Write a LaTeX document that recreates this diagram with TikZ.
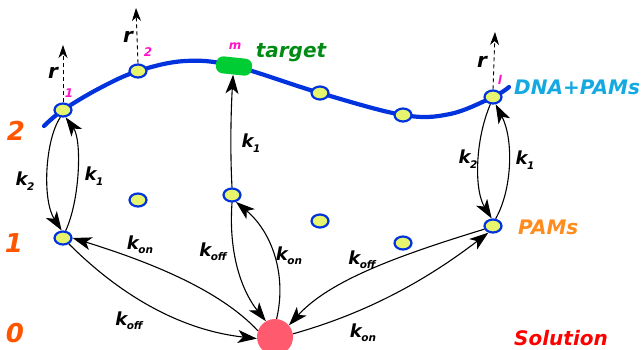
\documentclass[tikz,border=0pt]{standalone}
\usepackage{fontspec}
\setmainfont{DejaVu Sans}
\usetikzlibrary{arrows.meta,shapes.geometric}
\definecolor{dnablue}{RGB}{0,51,221}
\definecolor{pamfill}{RGB}{230,244,110}
\definecolor{tgreen}{RGB}{0,204,51}
\definecolor{ttext}{RGB}{0,140,20}
\definecolor{cyanlab}{RGB}{20,170,225}
\definecolor{levorange}{RGB}{255,85,0}
\definecolor{pamorange}{RGB}{255,140,30}
\definecolor{solred}{RGB}{255,0,0}
\definecolor{solfill}{RGB}{255,90,110}
\definecolor{magent}{RGB}{255,20,200}
\newcommand{\klab}[1]{k\kern-0.5pt\raisebox{-0.45ex}{\fontsize{10.5}{10.5}\selectfont #1}}
\begin{document}
\begin{tikzpicture}[x=1pt,y=-1pt,
  pam/.style={ellipse, draw=dnablue, line width=2.2pt, fill=pamfill, minimum width=17pt, minimum height=13pt, inner sep=0pt},
  arr/.style={-{Stealth[length=19pt,width=13pt,inset=5pt]}, line width=1.1pt},
  rarr/.style={-{Stealth[length=13pt,width=9pt,inset=4pt]}, line width=0.9pt, dash pattern=on 4pt off 3pt},
  klabel/.style={font=\fontsize{18}{18}\selectfont\bfseries\itshape, inner sep=0pt},
  lab/.style={font=\fontsize{20}{20}\selectfont\bfseries\itshape, inner sep=0pt},
  lev/.style={font=\fontsize{26}{26}\selectfont\bfseries\itshape, text=levorange, inner sep=0pt},
  sub/.style={font=\fontsize{12}{12}\selectfont\bfseries\itshape, text=magent, inner sep=0pt}]
\useasboundingbox (0,0) rectangle (642,349);
% DNA strand
\draw[dnablue, line width=4.2pt, line cap=round] plot[smooth,tension=0.6] coordinates
  {(44,126) (63,110) (100,88) (138,71) (185,61) (234,66) (320,93) (403,115) (450,114) (493,97) (509,87)};
\node[rounded corners=7pt, fill=tgreen, minimum width=36pt, minimum height=17pt, inner sep=0pt, rotate=-6] (tg) at (234,66) {};
% PAM nodes on DNA
\node[pam] (n1) at (63,110) {};
\node[pam] (n2) at (138,71) {};
\node[pam] (n3) at (320,93) {};
\node[pam] (n4) at (403,115) {};
\node[pam] (nl) at (493,97) {};
% PAM nodes level 1
\node[pam] (a1) at (63,238) {};
\node[pam] (b1) at (138,200) {};
\node[pam] (m1) at (232,195) {};
\node[pam] (c1) at (320,221) {};
\node[pam] (d1) at (403,243) {};
\node[pam] (r1) at (493,226) {};
% solution
\node[circle, fill=solfill, minimum size=36pt, inner sep=0pt] (sol) at (275,337) {};
% r arrows
\coordinate (t1) at (63,45);
\coordinate (t2) at (136,8);
\coordinate (tl) at (495,32);
\draw[rarr] (n1.north) -- (t1);
\draw[rarr] (n2.north) -- (t2);
\draw[rarr] (nl.north) -- (tl);
\node[lab] (rr1) at (53,73) {r};
\node[sub] (s1) at (69,93) {1};
\node[lab] (rr2) at (128,37) {r};
\node[sub] (s2) at (148,52) {2};
\node[lab] (rrl) at (482,62) {r};
\node[sub] (sl) at (500,80) {l};
% labels
\node[sub] (mm) at (235,46) {m};
\node[lab, text=ttext] (tgt) at (291,53) {target};
\node[lab, text=cyanlab, anchor=west] (dnal) at (514,87) {DNA+PAMs};
\node[lab, text=pamorange, anchor=west] (paml) at (518,227) {PAMs};
\node[lab, text=solred, anchor=west] (soll) at (514,338) {Solution};
\node[lev] (l2) at (16,131) {2};
\node[lev] (l1) at (14,243) {1};
\node[lev] (l0) at (15,333) {0};
% left pair
\draw[arr] (n1.250) .. controls (45,140) and (42,200) .. (a1.100);
\draw[arr] (a1.70) .. controls (80,200) and (82,140) .. (n1.290);
% right pair
\draw[arr] (nl.250) .. controls (475,140) and (474,190) .. (r1.100);
\draw[arr] (r1.70) .. controls (512,190) and (514,140) .. (nl.290);
% middle to target
\draw[arr] (m1.north) .. controls (230,150) and (231,110) .. (tg.south);
% solution exchanges
\draw[arr] (sol.160) .. controls (220,290) and (150,262) .. (a1.east);
\draw[arr] (a1.315) .. controls (120,295) and (180,330) .. (sol.185);
\draw[arr] (m1.south) .. controls (228,260) and (245,295) .. (sol.120);
\draw[arr] (sol.85) .. controls (287,275) and (272,232) .. (m1.300);
\draw[arr] (r1.200) .. controls (400,255) and (330,280) .. (sol.40);
\draw[arr] (sol.10) .. controls (360,315) and (420,285) .. (r1.235);
% rate labels
\node[klabel] (k2a) at (25,181) {\klab{2}};
\node[klabel] (k1a) at (94,176) {\klab{1}};
\node[klabel] (k1m) at (251,143) {\klab{1}};
\node[klabel] (k2b) at (468,159) {\klab{2}};
\node[klabel] (k1b) at (525,160) {\klab{1}};
\node[klabel] (kon1) at (140,245) {\klab{on}};
\node[klabel] (koff1) at (129,321) {\klab{off}};
\node[klabel] (koff2) at (213,252) {\klab{off}};
\node[klabel] (kon2) at (289,256) {\klab{on}};
\node[klabel] (koff3) at (362,260) {\klab{off}};
\node[klabel] (kon3) at (363,333) {\klab{on}};
\end{tikzpicture}
\end{document}
